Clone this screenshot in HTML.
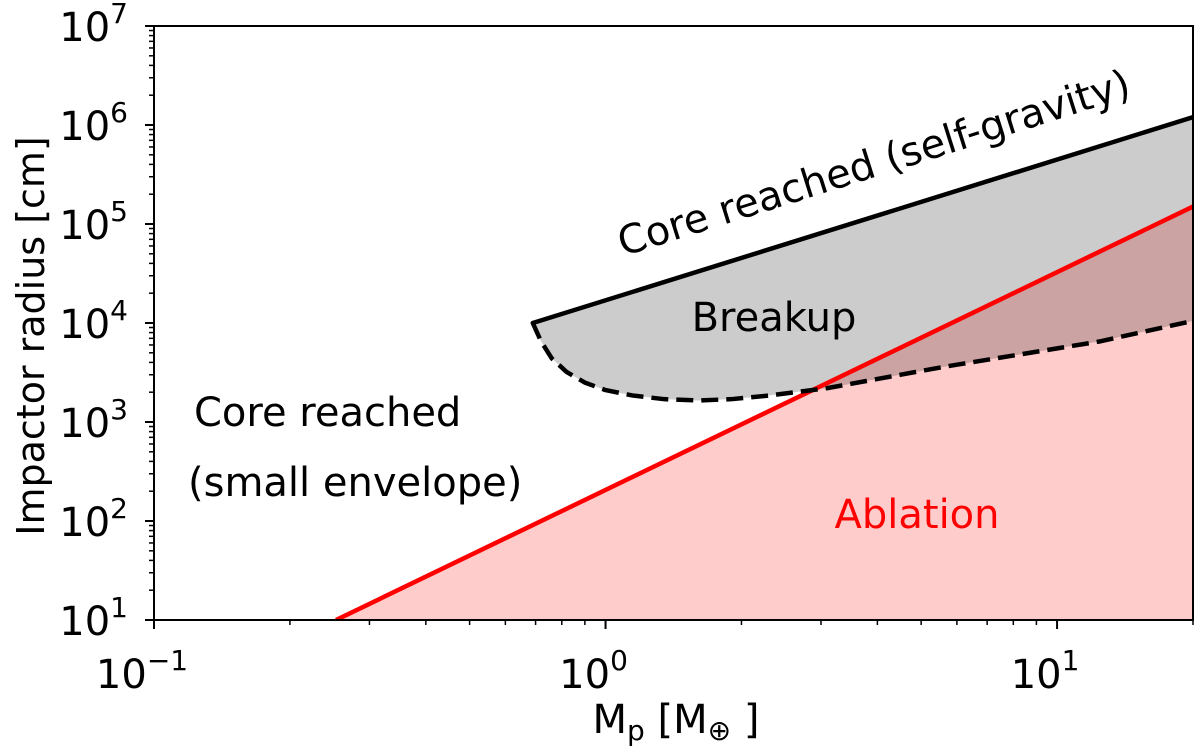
<!DOCTYPE html>
<html><head><meta charset="utf-8"><style>
body{margin:0;background:#fff}
svg{display:block;font-family:"DejaVu Sans","Liberation Sans",sans-serif}
</style></head><body>
<div style="position:relative;width:1200px;height:753px">
<svg id="chart" width="1200" height="753" style="position:absolute;left:0;top:0"></svg>
<svg width="1200" height="753" style="position:absolute;left:0;top:0;font-family:'DejaVu Sans','Liberation Sans',sans-serif">
<text x="676" y="733" font-size="40" text-anchor="middle">M<tspan font-size="28" dy="7">p</tspan><tspan dy="-7"> [M</tspan><tspan font-size="28" dy="7">⊕</tspan><tspan dy="-7"> ]</tspan></text>
<text transform="translate(44,336) rotate(-90)" font-size="38" text-anchor="middle">Impactor radius [cm]</text>
<text transform="translate(878,176) rotate(-17.5)" font-size="40" text-anchor="middle">Core reached (self-gravity)</text>
<text x="774" y="331" font-size="40" text-anchor="middle">Breakup</text>
<text x="194" y="426" font-size="40">Core reached</text>
<text x="188" y="496" font-size="40">(small envelope)</text>
<text x="917" y="528" font-size="40" text-anchor="middle" fill="#ff0000">Ablation</text>
</svg>
</div>
<script>
const xTickVals=[0.1,1,10];
const xTickLabels=["10","10","10"];
const xTickExps=["\u22121","0","1"];
const yTickVals=[1e1,1e2,1e3,1e4,1e5,1e6,1e7];
const yTickExps=["1","2","3","4","5","6","7"];
const ablationM=[0.253,20];
const ablationR=[10,1.5e5];
const selfGravM=[0.69,20];
const selfGravR=[1e4,1.2e6];
const breakupM=[0.69,0.72,0.76,0.82,0.9,1.0,1.15,1.35,1.6,1.9,2.3,3.1,5.6,12.4,20];
const breakupR=[1e4,6.5e3,4.4e3,3.2e3,2.5e3,2.1e3,1.85e3,1.7e3,1.65e3,1.7e3,1.85e3,2.2e3,3.6e3,6.5e3,1.05e4];

const L=154,R=1193,T=26,B=620;
const xmin=Math.log10(0.1),xmax=Math.log10(20),ymin=1,ymax=7;
const sx=v=>L+(Math.log10(v)-xmin)/(xmax-xmin)*(R-L);
const sy=v=>B-(Math.log10(v)-ymin)/(ymax-ymin)*(B-T);
const NS="http://www.w3.org/2000/svg";
const svg=document.getElementById('chart');
function mk(tag,attrs,parent){const e=document.createElementNS(NS,tag);for(const k in attrs)e.setAttribute(k,attrs[k]);(parent||svg).appendChild(e);return e;}

const defs=mk('defs',{});
const cp=mk('clipPath',{id:'clip'},defs);
mk('rect',{x:L,y:T,width:R-L,height:B-T},cp);
const g=mk('g',{'clip-path':'url(#clip)'});

let pts=ablationM.map((m,i)=>sx(m)+','+sy(ablationR[i]));
let ab=mk('polygon',{points:pts.join(' ')+' '+sx(ablationM[1])+','+B+' '+sx(ablationM[0])+','+B,fill:'rgb(255,204,204)'},g);


let up=selfGravM.map((m,i)=>sx(m)+','+sy(selfGravR[i]));
let dnArr=breakupM.map((m,i)=>sx(m)+','+sy(breakupR[i]));
let br=mk('polygon',{points:up.concat(dnArr.slice().reverse()).join(' '),fill:'rgba(0,0,0,0.2)'},g);


let rl=mk('polyline',{points:pts.join(' '),fill:'none',stroke:'#ff0000','stroke-width':4.5},g);


let bl=mk('polyline',{points:up.join(' '),fill:'none',stroke:'#000','stroke-width':4.5,'stroke-linecap':'round'},g);


let dl=mk('polyline',{points:dnArr.join(' '),fill:'none',stroke:'#000','stroke-width':4.5,'stroke-dasharray':'17,8','stroke-linejoin':'round'},g);



let fr=mk('rect',{x:L,y:T,width:R-L,height:B-T,fill:'none',stroke:'#000','stroke-width':2});



for(let d=-1;d<=1;d++){for(let k=1;k<10;k++){const v=k*Math.pow(10,d);if(v>20)continue;const x=sx(v);
 mk('line',{x1:x,x2:x,y1:B,y2:B+(k==1?9:5),stroke:'#000','stroke-width':k==1?2:1.5});}}
xTickVals.forEach((v,i)=>{const t=mk('text',{x:sx(v)-12,y:B+68,'font-size':40,'text-anchor':'middle'});
 
 
 t.textContent=xTickLabels[i];
 const s=mk('tspan',{dy:-18,'font-size':28},t);s.textContent=xTickExps[i];});
for(let d=1;d<7;d++){for(let k=2;k<10;k++){const y=sy(k*Math.pow(10,d));mk('line',{x1:L-5,x2:L,y1:y,y2:y,stroke:'#000','stroke-width':1.5});}}
yTickVals.forEach((v,i)=>{const y=sy(v);mk('line',{x1:L-9,x2:L,y1:y,y2:y,stroke:'#000','stroke-width':2});
 const t=mk('text',{x:L-26,y:y+15,'font-size':40,'text-anchor':'end'});
 
 
 t.textContent='10';
 const s=mk('tspan',{dy:-18,'font-size':28},t);s.textContent=yTickExps[i];});
</script>
</body></html>
